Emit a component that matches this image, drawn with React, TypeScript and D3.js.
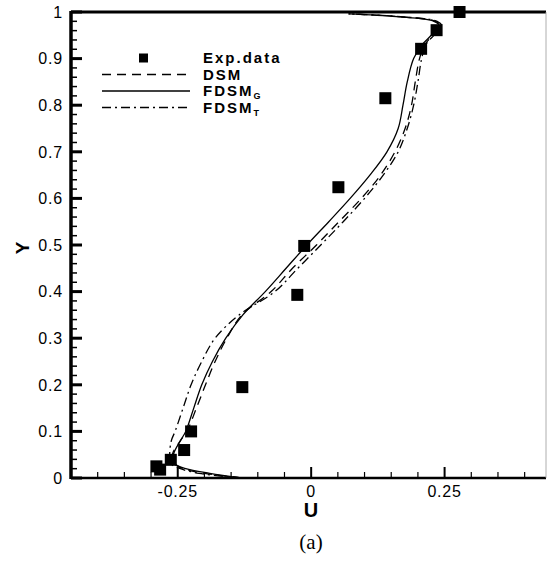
import React from 'react';
import * as d3 from 'd3';

// experimental points (U, Y)
const expU = [0.278, 0.235, 0.206, 0.139, 0.051, -0.013, -0.026, -0.129, -0.225, -0.238, -0.263, -0.29, -0.283];
const expY = [1.0, 0.961, 0.921, 0.815, 0.624, 0.498, 0.393, 0.195, 0.1, 0.06, 0.039, 0.025, 0.018];

// profile heights shared by the model curves
const yLevels = [0, 0.01, 0.02, 0.03, 0.05, 0.08, 0.1, 0.15, 0.2, 0.25, 0.3, 0.35, 0.4, 0.45, 0.5, 0.55, 0.6, 0.65, 0.7, 0.75, 0.8, 0.85, 0.9, 0.93, 0.95, 0.97, 0.98, 0.99, 0.996];

const dsmU = [-0.13, -0.2, -0.24, -0.255, -0.26, -0.245, -0.233, -0.215, -0.198, -0.18, -0.158, -0.13, -0.075, -0.035, 0.01, 0.052, 0.094, 0.13, 0.157, 0.176, 0.188, 0.195, 0.203, 0.213, 0.228, 0.243, 0.233, 0.165, 0.07];
const fdsmGU = [-0.13, -0.19, -0.235, -0.255, -0.258, -0.245, -0.235, -0.22, -0.205, -0.185, -0.16, -0.128, -0.086, -0.047, -0.008, 0.033, 0.073, 0.11, 0.142, 0.163, 0.172, 0.18, 0.192, 0.208, 0.225, 0.24, 0.23, 0.16, 0.07];
const fdsmTU = [-0.13, -0.21, -0.245, -0.262, -0.265, -0.262, -0.255, -0.24, -0.225, -0.205, -0.18, -0.135, -0.068, -0.025, 0.018, 0.06, 0.1, 0.135, 0.163, 0.18, 0.192, 0.2, 0.207, 0.215, 0.23, 0.245, 0.236, 0.168, 0.07];

const xMajor = [-0.25, 0, 0.25];
const xTickLabels = ['-0.25', '0', '0.25'];
const yMajor = [0, 0.1, 0.2, 0.3, 0.4, 0.5, 0.6, 0.7, 0.8, 0.9, 1];
const yTickLabels = ['0', '0.1', '0.2', '0.3', '0.4', '0.5', '0.6', '0.7', '0.8', '0.9', '1'];

const series = [
  { name: 'DSM', sub: '', values: dsmU, dash: '9,6' },
  { name: 'FDSM', sub: 'G', values: fdsmGU, dash: '' },
  { name: 'FDSM', sub: 'T', values: fdsmTU, dash: '9,4,2,4' },
];

const sans = '"Liberation Sans", Arial, sans-serif';

export default function App() {
  const x = d3.scaleLinear().domain([-0.45, 0.44]).range([71, 546]);
  const y = d3.scaleLinear().domain([0, 1]).range([478, 12]);

  const xMinor = d3.range(-0.45, 0.44, 0.05).filter(v => !xMajor.some(m => Math.abs(m - v) < 1e-6));
  const yMinor = d3.range(0, 1.001, 0.02).filter(v => !yMajor.some(m => Math.abs(m - v) < 1e-6));

  const line = d3.line<[number, number]>()
    .x(d => x(d[0]))
    .y(d => y(d[1]))
    .curve(d3.curveCatmullRom);

  const legendY = [58, 74.5, 91, 107.5];

  return (
    <svg width={547} height={565} style={{ position: 'absolute', left: 0, top: 0, background: '#fff' }}>
      {/* curves */}
      {series.map((s, i) => (
        <path
          key={i}
          d={line(s.values.map((u, j) => [u, yLevels[j]] as [number, number])) || ''}
          fill="none"
          stroke="#000"
          strokeWidth={1.3}
          strokeDasharray={s.dash || undefined}
        />
      ))}

      {/* frame */}
      <line x1={x(-0.45)} x2={x(0.44)} y1={y(0)} y2={y(0)} stroke="#000" strokeWidth={2.5} />
      <line x1={x(-0.45)} x2={x(0.44)} y1={y(1)} y2={y(1)} stroke="#000" strokeWidth={3} />
      <line x1={x(-0.45)} x2={x(-0.45)} y1={y(0) + 1} y2={y(1) - 1} stroke="#000" strokeWidth={3.5} />
      <line x1={x(0.44)} x2={x(0.44)} y1={y(0)} y2={y(1)} stroke="#999" strokeWidth={0.8} />

      {/* x ticks */}
      {xMinor.map((v, i) => (
        <line key={'xm' + i} x1={x(v)} x2={x(v)} y1={y(0)} y2={y(0) - 6} stroke="#000" strokeWidth={1.2} />
      ))}
      {xMajor.map((v, i) => (
        <g key={'xM' + i}>
          <line x1={x(v)} x2={x(v)} y1={y(0)} y2={y(0) - 11} stroke="#000" strokeWidth={2} />
          <text x={x(v)} y={497} textAnchor="middle" fontFamily={sans} fontSize={16} letterSpacing={0.8}>
            {xTickLabels[i]}
          </text>
        </g>
      ))}

      {/* y ticks */}
      {yMinor.map((v, i) => (
        <line key={'ym' + i} x1={x(-0.45)} x2={x(-0.45) + 6} y1={y(v)} y2={y(v)} stroke="#000" strokeWidth={1.5} />
      ))}
      {yMajor.map((v, i) => (
        <g key={'yM' + i}>
          <line x1={x(-0.45)} x2={x(-0.45) + 11} y1={y(v)} y2={y(v)} stroke="#000" strokeWidth={3} />
          <text x={63} y={y(v)} dy="0.36em" textAnchor="end" fontFamily={sans} fontSize={16} letterSpacing={0.8}>
            {yTickLabels[i]}
          </text>
        </g>
      ))}

      {/* experimental data */}
      {expU.map((u, i) => (
        <rect key={'e' + i} x={x(u) - 6} y={y(expY[i]) - 6} width={12} height={12} fill="#000" />
      ))}

      {/* legend */}
      <rect x={139} y={legendY[0] - 4.5} width={9} height={9} fill="#000" />
      <text x={203} y={legendY[0] + 5} fontFamily={sans} fontWeight="bold" fontSize={15} letterSpacing={2}>Exp.data</text>
      {series.map((s, i) => (
        <g key={'l' + i}>
          <line x1={102} x2={190} y1={legendY[i + 1]} y2={legendY[i + 1]} stroke="#000" strokeWidth={1.3}
            strokeDasharray={s.dash || undefined} />
          <text x={203} y={legendY[i + 1] + 5} fontFamily={sans} fontWeight="bold" fontSize={15} letterSpacing={2}>
            {s.name}
            {s.sub && <tspan fontSize={9} dy={3}>{s.sub}</tspan>}
          </text>
        </g>
      ))}

      {/* axis titles */}
      <text x={311} y={517} textAnchor="middle" fontFamily={sans} fontWeight="bold" fontSize={20}>U</text>
      <text transform="translate(29, 248) rotate(-90)" textAnchor="middle" fontFamily={sans} fontWeight="bold" fontSize={19}>Y</text>
      <text x={311} y={549} textAnchor="middle" fontFamily='"Liberation Serif", "Times New Roman", serif' fontSize={21}>(a)</text>
    </svg>
  );
}
